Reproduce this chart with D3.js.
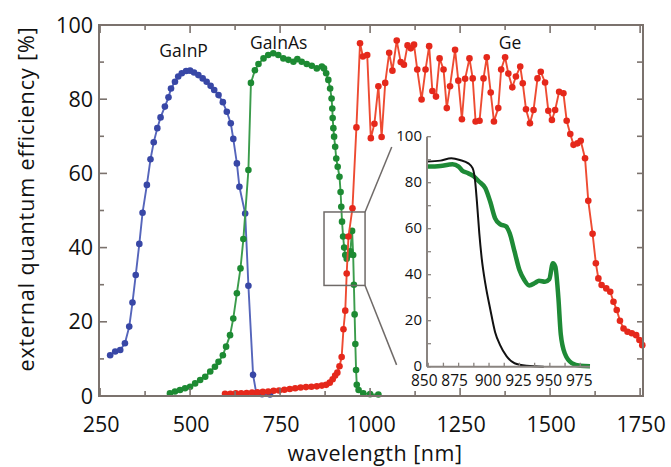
<!DOCTYPE html>
<html><head><meta charset="utf-8">
<script src="https://cdn.jsdelivr.net/npm/d3@7"></script>
<style>
html,body{margin:0;padding:0;background:#fff;}
svg{display:block;font-family:"Open Sans","Noto Sans",sans-serif;}
</style></head>
<body>
<svg id="chart" width="671" height="467"></svg>
<script>
// ---------- data (wavelength nm, EQE %) ----------
const gainpData = [[278,11.0],[292,12.0],[306,12.4],[319,14.2],[331,18.7],[340,25.2],[349,32.6],[359,41],[368,49.4],[380,56.9],[390,63.8],[399,68.4],[409,72.2],[418,75.1],[430,78],[440,80.5],[447,82.9],[458,84.7],[467,86.1],[477,87],[489,87.6],[500,87.7],[511,87.2],[523,86.5],[535,85.6],[546,84.7],[557,83.6],[567,82.5],[579,81.1],[591,79.2],[602,76.6],[613,73.5],[620,69.3],[630,62.7],[637,56.4],[653,49.2],[662,29.7],[675,5.7],[684,0.7],[700,0.5],[722,0.4]];

const gainasData = [[444,0.7],[458,1.2],[472,1.6],[486,2.1],[500,2.5],[514,3.4],[528,4.3],[542,5.2],[556,6.6],[569,7.9],[579,9.2],[591,11],[600,13.3],[611,16.4],[620,20.9],[630,27.7],[640,34.4],[648,42.3],[662,60.9],[669,84.4],[680,87.8],[690,89.5],[704,91],[717,91.9],[731,92.4],[745,91.9],[759,91],[773,90.6],[787,90.1],[798,90.8],[810,90.1],[824,89.5],[838,89],[852,88.3],[866,88.8],[872,88.3],[878,87],[884,85.2],[889,82.9],[893,80.2],[895,77.5],[896,74.9],[898,72.2],[900,69.9],[903,67.2],[906,64],[910,61.8],[915,59.1],[918,55],[920,51],[922,47],[925,43],[928,40],[931,38],[935,37],[940,38],[945,39],[950,44.5],[953,38],[955,30],[957,22],[959,14],[961,7],[963,3],[968,1.6],[981,0.7],[1000,0.5],[1023,0.4]];

const geData = [[597,0.6],[612,0.6],[627,0.7],[642,0.7],[657,0.8],[672,0.9],[687,1.0],[702,1.1],[717,1.2],[732,1.4],[747,1.5],[762,1.7],[777,1.9],[792,2.1],[807,2.3],[822,2.4],[837,2.5],[852,2.6],[866,2.8],[878,3.0],[888,3.6],[896,4.5],[903,5.5],[909,6.3],[915,8],[921,10.5],[926,18],[931,23],[935,33],[940,43],[951,50.6],[962,72.4],[972,95.1],[980,91.5],[992,91.9],[1002,69.5],[1012,73.4],[1023,83.5],[1032,69.8],[1042,84.4],[1053,92.5],[1062,87.7],[1074,95.8],[1085,90],[1094,89.3],[1104,94.5],[1113,93.7],[1122,94.7],[1131,88],[1143,79.9],[1154,88],[1164,94.3],[1173,82.2],[1183,80.7],[1193,91],[1204,88],[1213,77.6],[1222,83.5],[1236,93.3],[1245,85],[1255,74.6],[1264,85.5],[1276,91],[1285,85.6],[1293,74],[1304,74.2],[1315,85.6],[1324,91.3],[1335,81.8],[1344,74],[1356,77.6],[1364,88],[1375,91.3],[1384,86.9],[1395,83.2],[1405,86.1],[1417,88.8],[1424,84.3],[1433,77.3],[1444,73.5],[1454,77.1],[1465,85.6],[1474,87.4],[1486,84.5],[1495,76.9],[1505,74.4],[1514,77.1],[1525,82],[1537,81.6],[1546,74.2],[1556,70.6],[1565,67.7],[1576,68.1],[1585,68.8],[1597,64.1],[1606,52.6],[1618,43.7],[1627,35.8],[1634,31.7],[1643,29.9],[1656,29],[1667,28.1],[1676,25.4],[1685,23.2],[1694,20.3],[1704,18.2],[1715,17.3],[1727,16.9],[1739,16.4],[1748,15.1],[1756,13.7]];

// inset (zoom of GaInAs band edge)
const insetGreen = [[849,87],[860,87.3],[870,88],[875,87],[878,85.2],[882,84.3],[887,82.9],[892,80.4],[897,77.6],[901,71.7],[905,64.5],[909,62],[914,61],[917,58],[921,50],[925,42],[929,37.7],[933,35.3],[938,36.5],[941,37.4],[946,36.9],[949.5,38],[952.5,45],[954.5,43.5],[957,30],[959,14],[962.5,5.5],[968,1.6],[975,0.4],[983,0.2]];
const insetBlack = [[849,89.2],[860,89.6],[869,90.6],[876,89.9],[883,88.4],[886.5,86.3],[888.5,81],[890,72],[892,58],[894,47],[897,36],[901,25],[905,15],[909,9.5],[914.5,4.5],[921,1.5],[931,0.4],[945,0]];

const xTicks = [250,500,750,1000,1250,1500,1750];
const yTicks = [0,20,40,60,80,100];
const insetXTicks = [850,875,900,925,950,975];
const insetYTicks = [0,20,40,60,80,100];

const seriesLabels = [
  {text:"GaInP", x:482, y:91.3},
  {text:"GaInAs", x:746, y:93.5},
  {text:"Ge", x:1389, y:93.5}
];
const zoomBox = {x0:872, x1:986, y0:29.8, y1:49.6};
const connectorTargets = [[820,95.5],[824,0.8]]; // in inset coords

// ---------- scales ----------
const svg = d3.select("#chart");
const x = d3.scaleLinear().domain([247,1758]).range([99,643]);
const y = d3.scaleLinear().domain([0,100]).range([396,25]);
const ix = d3.scaleLinear().domain([849,983]).range([427,590]);
const iy = d3.scaleLinear().domain([0,100]).range([366.7,136.7]);

const axisCol = "#7b726d";
const colors = {
  blueLine:"#5565bb", blueDot:"#3847a6",
  greenLine:"#3b9c4c", greenDot:"#1d8a33",
  redLine:"#ee4b32", redDot:"#e5281b"
};

// ---------- main series ----------
function drawSeries(data, lineCol, dotCol){
  const line = d3.line().x(d=>x(d[0])).y(d=>y(d[1]));
  svg.append("path").datum(data).attr("d", line)
    .attr("fill","none").attr("stroke", lineCol).attr("stroke-width",1.9);
  svg.append("g").selectAll("circle").data(data).join("circle")
    .attr("cx", d=>x(d[0])).attr("cy", d=>y(d[1])).attr("r",3.3)
    .attr("fill", dotCol);
}
drawSeries(gainpData, colors.blueLine, colors.blueDot);
drawSeries(gainasData, colors.greenLine, colors.greenDot);
drawSeries(geData, colors.redLine, colors.redDot);

// ---------- frame & ticks ----------
const x0 = x.range()[0], x1 = x.range()[1], y0 = y.range()[0], y1 = y.range()[1];
svg.append("rect").attr("x",x0).attr("y",y1).attr("width",x1-x0).attr("height",y0-y1)
  .attr("fill","none").attr("stroke",axisCol).attr("stroke-width",2);

const xMinor = d3.range(250,1751,125);
const yMinor = d3.range(0,101,10);
const tg = svg.append("g").attr("stroke",axisCol).attr("stroke-width",1.6);
xMinor.forEach(v=>{
  const len = (v-250)%250===0 ? 8 : 5;
  tg.append("line").attr("x1",x(v)).attr("x2",x(v)).attr("y1",y0).attr("y2",y0-len);
  tg.append("line").attr("x1",x(v)).attr("x2",x(v)).attr("y1",y1).attr("y2",y1+len);
});
yMinor.forEach(v=>{
  const len = v%20===0 ? 8 : 5;
  tg.append("line").attr("x1",x0).attr("x2",x0+len).attr("y1",y(v)).attr("y2",y(v));
  tg.append("line").attr("x1",x1).attr("x2",x1-6).attr("y1",y(v)).attr("y2",y(v));
});

svg.append("g").selectAll("text").data(xTicks).join("text")
  .attr("x", d=>x(d)+1).attr("y", 432).attr("text-anchor","middle")
  .attr("font-size",21.5).attr("fill","#111").text(d=>d);
svg.append("g").selectAll("text").data(yTicks).join("text")
  .attr("x", 93).attr("y", d=>y(d)+7.5).attr("text-anchor","end")
  .attr("font-size",21.5).attr("fill","#111").text(d=>d);

svg.append("text").attr("x",375).attr("y",461).attr("text-anchor","middle")
  .attr("font-size",21.5).attr("letter-spacing",0.5).attr("fill","#111").text("wavelength [nm]");
svg.append("text").attr("transform","translate(34,199) rotate(-90)")
  .attr("text-anchor","middle").attr("font-size",21.5).attr("letter-spacing",0.9).attr("fill","#111")
  .text("external quantum efficiency [%]");

svg.append("g").selectAll("text").data(seriesLabels).join("text")
  .attr("x", d=>x(d.x)).attr("y", d=>y(d.y)).attr("text-anchor","middle")
  .attr("font-size",17.5).attr("fill","#111").text(d=>d.text);

// ---------- zoom box + connectors ----------
const zc = "#6f6a68";
svg.append("rect").attr("x",x(zoomBox.x0)).attr("y",y(zoomBox.y1))
  .attr("width",x(zoomBox.x1)-x(zoomBox.x0)).attr("height",y(zoomBox.y0)-y(zoomBox.y1))
  .attr("fill","none").attr("stroke",zc).attr("stroke-width",1.5);
svg.append("line").attr("x1",x(zoomBox.x1)).attr("y1",y(zoomBox.y1))
  .attr("x2",ix(connectorTargets[0][0])).attr("y2",iy(connectorTargets[0][1]))
  .attr("stroke",zc).attr("stroke-width",1.5);
svg.append("line").attr("x1",x(zoomBox.x1)).attr("y1",y(zoomBox.y0))
  .attr("x2",ix(connectorTargets[1][0])).attr("y2",iy(connectorTargets[1][1]))
  .attr("stroke",zc).attr("stroke-width",1.5);

// ---------- inset ----------
const ig = svg.append("g");
const iline = d3.line().x(d=>ix(d[0])).y(d=>iy(d[1])).curve(d3.curveMonotoneX);
ig.append("path").datum(insetGreen).attr("d",iline).attr("fill","none")
  .attr("stroke","#1e8a36").attr("stroke-width",4.5).attr("stroke-linejoin","round");
ig.append("path").datum(insetBlack).attr("d",iline).attr("fill","none")
  .attr("stroke","#111").attr("stroke-width",2);

const iAxisCol = "#8a8480";
ig.append("line").attr("x1",ix(849)).attr("x2",ix(849)).attr("y1",iy(100)).attr("y2",iy(0))
  .attr("stroke",iAxisCol).attr("stroke-width",2);
ig.append("line").attr("x1",ix(849)).attr("x2",ix(983)).attr("y1",iy(0)).attr("y2",iy(0))
  .attr("stroke",iAxisCol).attr("stroke-width",2);
d3.range(0,101,10).forEach(v=>{
  ig.append("line").attr("x1",ix(849)).attr("x2",ix(849)+4).attr("y1",iy(v)).attr("y2",iy(v))
    .attr("stroke",iAxisCol).attr("stroke-width",1.3);
});
d3.range(850,981,12.5).forEach(v=>{
  ig.append("line").attr("x1",ix(v)).attr("x2",ix(v)).attr("y1",iy(0)).attr("y2",iy(0)-4)
    .attr("stroke",iAxisCol).attr("stroke-width",1.3);
});
ig.selectAll("text.iy").data(insetYTicks).join("text").attr("class","iy")
  .attr("x",422).attr("y",d=>iy(d)+4.6).attr("text-anchor","end")
  .attr("font-size",15).attr("fill","#111").text(d=>d);
ig.selectAll("text.ix").data(insetXTicks).join("text").attr("class","ix")
  .attr("x",d=>ix(d)-(d<900?4:1)).attr("y",386).attr("text-anchor","middle")
  .attr("font-size",15.5).attr("fill","#111").text(d=>d);
</script>
</body></html>
